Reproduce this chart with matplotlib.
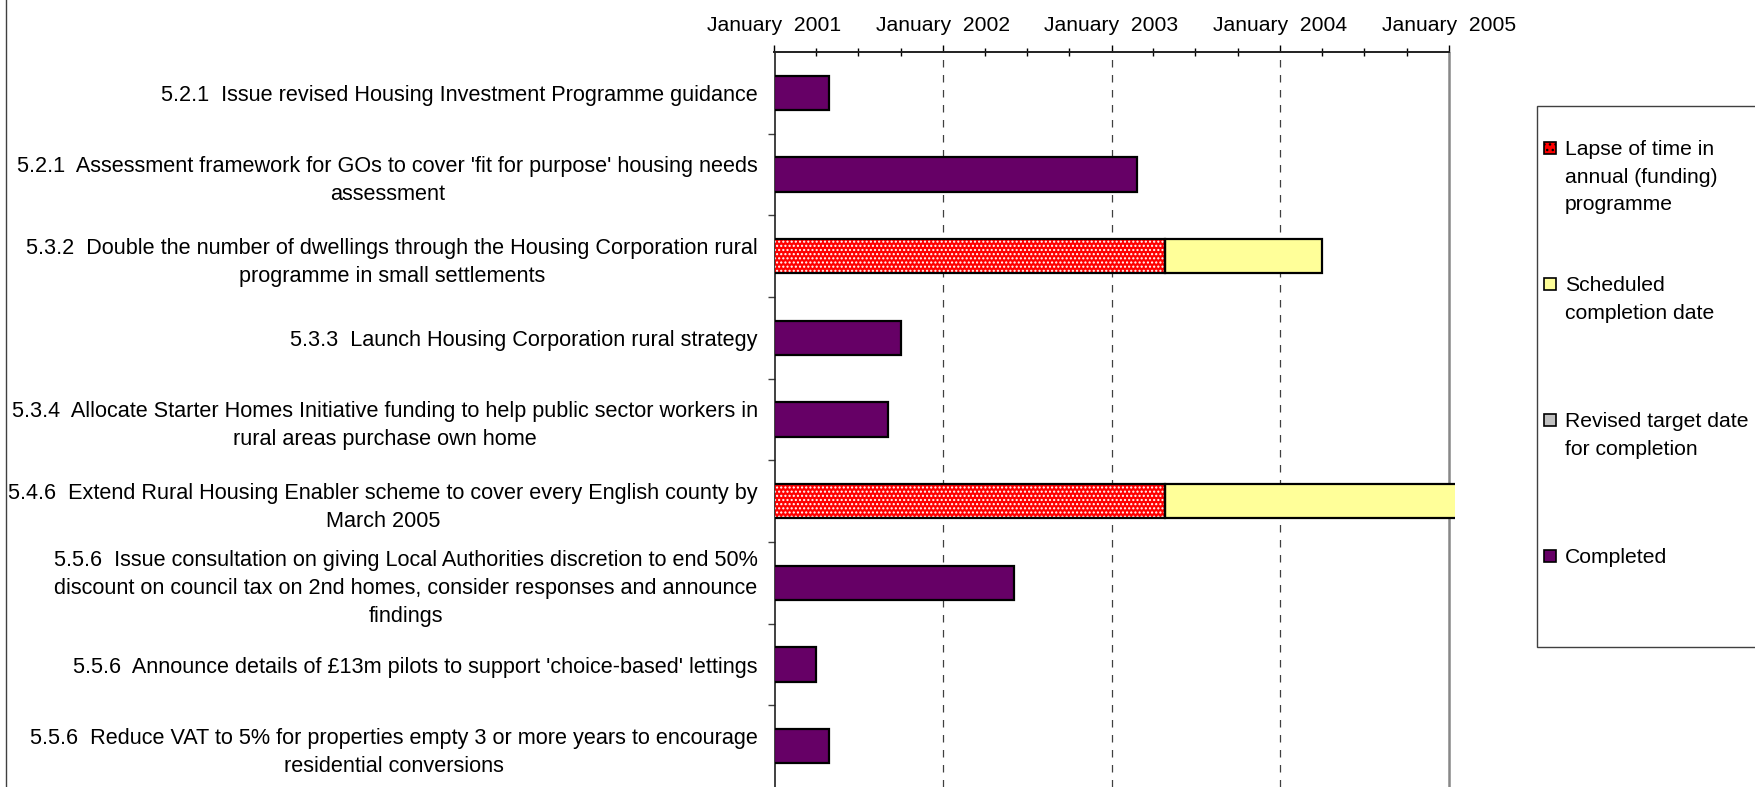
import matplotlib
matplotlib.use("Agg")
import matplotlib.pyplot as plt
import matplotlib.dates as mdates
from matplotlib.patches import Rectangle
from matplotlib.lines import Line2D
import pandas as pd

plt.rcParams["font.family"] = ["Liberation Sans", "DejaVu Sans"]

# --- data -------------------------------------------------------------
tasks = [
    "5.2.1  Issue revised Housing Investment Programme guidance",
    "5.2.1  Assessment framework for GOs to cover 'fit for purpose' housing needs\nassessment",
    "5.3.2  Double the number of dwellings through the Housing Corporation rural\nprogramme in small settlements",
    "5.3.3  Launch Housing Corporation rural strategy",
    "5.3.4  Allocate Starter Homes Initiative funding to help public sector workers in\nrural areas purchase own home",
    "5.4.6  Extend Rural Housing Enabler scheme to cover every English county by\nMarch 2005",
    "5.5.6  Issue consultation on giving Local Authorities discretion to end 50%\ndiscount on council tax on 2nd homes, consider responses and announce\nfindings",
    "5.5.6  Announce details of £13m pilots to support 'choice-based' lettings",
    "5.5.6  Reduce VAT to 5% for properties empty 3 or more years to encourage\nresidential conversions",
]
start_date = "2001-01-01"
completed_end = ["2001-04-30", "2003-02-26", None, "2001-10-01", "2001-09-03",
                 None, "2002-06-04", "2001-04-01", "2001-04-30"]
lapse_end = [None, None, "2003-04-27", None, None, "2003-04-27", None, None, None]
scheduled_end = [None, None, "2004-03-31", None, None, "2005-03-31", None, None, None]
revised_end = [None] * 9

year_ticks = ["2001-01-01", "2002-01-01", "2003-01-01", "2004-01-01", "2005-01-01"]
year_labels = ["January  2001", "January  2002", "January  2003", "January  2004", "January  2005"]

legend_labels = ["Lapse of time in\nannual (funding)\nprogramme",
                 "Scheduled\ncompletion date",
                 "Revised target date\nfor completion",
                 "Completed"]

# --- colours ----------------------------------------------------------
c_lapse = "#FF0000"
c_sched = "#FFFF99"
c_revised = "#C0C0C0"
c_done = "#660066"

W, H = 1755, 787
fig = plt.figure(figsize=(W / 100, H / 100), dpi=100)
ax = fig.add_axes([774.5 / W, 0, (1455 - 774.5) / W, 1 - 52 / H])

t0 = mdates.date2num(pd.Timestamp(start_date))
bar_h = 0.42
fs = 15.2
fs_lab = 15.6


def num(d):
    return mdates.date2num(pd.Timestamp(d))


for i in range(len(tasks)):
    left = t0
    if lapse_end[i]:
        w = num(lapse_end[i]) - left
        ax.barh(i, w, left=left, height=bar_h, color=c_lapse, edgecolor="white",
                hatch="....", linewidth=0, zorder=3)
        ax.barh(i, w, left=left, height=bar_h, facecolor="none", edgecolor="black",
                linewidth=1.6, zorder=4)
        left = num(lapse_end[i])
    if scheduled_end[i]:
        ax.barh(i, num(scheduled_end[i]) - left, left=left, height=bar_h,
                color=c_sched, edgecolor="black", linewidth=1.6, zorder=3)
    if revised_end[i]:
        ax.barh(i, num(revised_end[i]) - left, left=left, height=bar_h,
                color=c_revised, edgecolor="black", linewidth=1.6, zorder=3)
    if completed_end[i]:
        ax.barh(i, num(completed_end[i]) - t0, left=t0, height=bar_h,
                color=c_done, edgecolor="black", linewidth=1.6, zorder=3)

# axes limits
x_end = num(year_ticks[-1])
ax.set_xlim(t0, x_end + 13)
ax.set_ylim(len(tasks) - 0.5, -0.5)

# x axis on top
ax.xaxis.tick_top()
ax.set_xticks([num(d) for d in year_ticks])
ax.set_xticklabels(year_labels, fontsize=fs)
ax.xaxis.set_minor_locator(mdates.MonthLocator(bymonth=[4, 7, 10]))
ax.tick_params(axis="x", which="major", direction="out", length=5, width=1,
               color="black", pad=7)
ax.tick_params(axis="x", which="minor", direction="inout", length=6, width=1,
               color="black", top=True)

# y axis: labels at centres, tick marks between rows
ax.set_yticks(range(len(tasks)))
ax.set_yticklabels(tasks, fontsize=fs_lab, multialignment="center", linespacing=1.44)
ax.set_yticks([i + 0.5 for i in range(len(tasks) - 1)], minor=True)
ax.tick_params(axis="y", which="major", length=0, pad=12)
ax.tick_params(axis="y", which="minor", direction="out", length=5, width=1, color="#404040")

# grid lines at each year
for d in year_ticks[1:-1]:
    ax.axvline(num(d), color="#404040", linewidth=0.9, linestyle=(0, (6, 6)), zorder=1)
ax.axvline(x_end, color="#888888", linewidth=1.8, zorder=2)

for s in ["right", "bottom"]:
    ax.spines[s].set_visible(False)
ax.spines["top"].set_bounds(t0, x_end)
ax.spines["top"].set_linewidth(1.4)
ax.spines["top"].set_color("#202020")
ax.spines["left"].set_linewidth(1.2)
ax.spines["left"].set_color("#202020")

# legend box (runs off the right edge like the original)
fig.add_artist(Rectangle((1537 / W, 1 - 647 / H), 0.2, (647 - 106) / H,
                         transform=fig.transFigure, facecolor="white",
                         edgecolor="#404040", linewidth=1))
leg_colors = [c_lapse, c_sched, c_revised, c_done]
leg_hatch = ["...", None, None, None]
step = 136
for k, (lab, col, hat) in enumerate(zip(legend_labels, leg_colors, leg_hatch)):
    yc = 148 + k * step
    fig.add_artist(Rectangle((1544 / W, 1 - (yc + 6) / H), 12 / W, 12 / H,
                             transform=fig.transFigure, facecolor=col,
                             edgecolor="black", linewidth=1.2, hatch=hat))
    fig.text(1565 / W, 1 - (yc - 7.6) / H, lab, fontsize=fs, va="top", ha="left",
             linespacing=1.55)

# chart area border on the left
fig.add_artist(Line2D([6 / W, 6 / W], [0, 1], transform=fig.transFigure,
                      color="#404040", linewidth=1))

fig.savefig("out.png", dpi=100)
